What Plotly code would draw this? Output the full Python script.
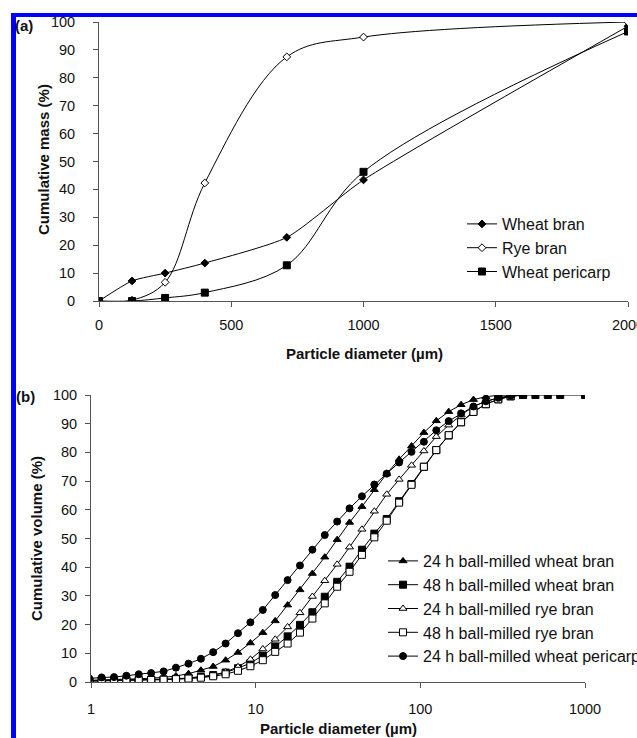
import plotly.graph_objects as go

W, H = 637, 738

# ---------------- Panel (a) data ----------------
sieve_um = [0, 125, 250, 400, 710, 1000, 2000]
wheat_bran_a = [0, 7.2, 10.0, 13.6, 22.8, 43.4, 98.5]
rye_bran_a = [0, 0.3, 6.7, 42.3, 87.5, 94.6, 100]
wheat_pericarp_a = [0, 0, 1.1, 3.0, 12.8, 46.3, 96.6]
x_ticks_a = [0, 500, 1000, 1500, 2000]

# ---------------- Panel (b) data ----------------
diam_b = [0.977, 1.16, 1.38, 1.64, 1.95, 2.32, 2.76, 3.28, 3.91, 4.65,
          5.52, 6.57, 7.81, 9.29, 11.05, 13.14, 15.63, 18.58, 22.10, 26.28,
          31.25, 37.16, 44.19, 52.56, 62.50, 74.33, 88.39, 105.1, 125.0, 148.7,
          176.8, 210.2, 250.0, 297.3, 353.6, 420.4, 500.0, 594.6, 707.1, 840.9,
          1000.0]
wb24 = [0.6, 0.8, 0.9, 1.0, 1.1, 1.3, 1.6, 2.1, 2.9, 4.1,
        5.4, 7.6, 10.3, 13.6, 17.2, 21.3, 26.8, 32.1, 37.8, 43.5,
        49.6, 55.6, 61.1, 67.0, 72.6, 77.6, 82.2, 86.9, 91.0, 94.2,
        96.6, 98.4, 99.4, 99.9, 100]
wb48 = [0.4, 0.5, 0.5, 0.6, 0.7, 0.8, 0.9, 1.1, 1.4, 1.8,
        2.4, 3.3, 4.8, 6.6, 9.2, 12.4, 15.9, 19.9, 24.3, 29.7,
        34.9, 40.2, 46.1, 51.7, 56.8, 63.0, 69.0, 75.0, 80.8, 85.9,
        90.5, 94.2, 96.8, 98.5, 99.5, 100, 100, 100, 100, None,
        100]
rb24 = [0.4, 0.6, 0.6, 0.7, 0.7, 0.8, 0.9, 1.0, 1.2, 1.6,
        2.3, 3.5, 5.3, 7.9, 11.5, 14.9, 19.2, 24.1, 29.8, 35.3,
        41.0, 47.0, 53.2, 59.5, 65.4, 70.6, 75.5, 80.5, 85.5, 89.5,
        93.0, 96.0, 97.8, 98.9, 99.6, 100]
rb48 = [0.3, 0.5, 0.5, 0.6, 0.6, 0.7, 0.8, 1.0, 1.2, 1.5,
        2.0, 2.7, 3.9, 5.5, 7.6, 10.5, 13.4, 17.2, 22.1, 27.4,
        33.2, 38.4, 44.3, 50.4, 56.2, 62.5, 68.7, 75.0, 80.8, 86.0,
        90.5, 94.1, 96.8, 98.5, 99.6, 100]
wp24 = [1.2, 1.6, 1.7, 2.2, 2.7, 3.1, 3.7, 5.0, 6.4, 8.1,
        10.4, 13.4, 17.0, 20.8, 25.1, 30.3, 35.5, 40.6, 46.1, 51.2,
        55.9, 60.5, 64.7, 68.8, 72.6, 76.5, 80.2, 83.7, 87.7, 90.9,
        93.6, 96.0, 97.8, 99.0, 99.8, 100]
x_ticks_b = [1, 10, 100, 1000]
y_ticks = [0, 10, 20, 30, 40, 50, 60, 70, 80, 90, 100]

FONT = "Liberation Sans, Arial, sans-serif"
BLK = "#000000"


def px(x):
    return x / W


def py(y):
    return 1 - y / H


fig = go.Figure()

# Panel (a) traces
fig.add_trace(go.Scatter(
    x=sieve_um, y=wheat_bran_a, name="Wheat bran", mode="lines+markers",
    line=dict(color=BLK, width=1, shape="spline", smoothing=0.6),
    marker=dict(symbol="diamond", size=6, color=BLK, line=dict(color=BLK, width=1)),
    xaxis="x", yaxis="y", legend="legend"))
fig.add_trace(go.Scatter(
    x=sieve_um, y=rye_bran_a, name="Rye bran", mode="lines+markers",
    line=dict(color=BLK, width=1, shape="spline", smoothing=1.0),
    marker=dict(symbol="diamond", size=6, color="white", line=dict(color=BLK, width=1)),
    xaxis="x", yaxis="y", legend="legend"))
fig.add_trace(go.Scatter(
    x=sieve_um, y=wheat_pericarp_a, name="Wheat pericarp", mode="lines+markers",
    line=dict(color=BLK, width=1, shape="spline", smoothing=1.0),
    marker=dict(symbol="square", size=7, color=BLK, line=dict(color=BLK, width=1)),
    xaxis="x", yaxis="y", legend="legend"))

# Panel (b) traces
series_b = [
    ("24 h ball-milled wheat bran", wb24, "triangle-up", BLK, 7),
    ("48 h ball-milled wheat bran", wb48, "square", BLK, 7),
    ("24 h ball-milled rye bran", rb24, "triangle-up", "white", 7),
    ("48 h ball-milled rye bran", rb48, "square", "white", 7),
    ("24 h ball-milled wheat pericarp", wp24, "circle", BLK, 7),
]
for name, vals, sym, fill, size in series_b:
    fig.add_trace(go.Scatter(
        x=diam_b[:len(vals)], y=vals, name=name, mode="lines+markers",
        connectgaps=True,
        line=dict(color=BLK, width=1),
        marker=dict(symbol=sym, size=size, color=fill, line=dict(color=BLK, width=1)),
        xaxis="x2", yaxis="y2", legend="legend2"))

axis_common = dict(
    showline=True, linecolor="#555555", linewidth=1,
    ticks="outside", ticklen=5, tickwidth=1, tickcolor="#555555",
    showgrid=False, zeroline=False, ticklabeloverflow="allow",
    tickfont=dict(family=FONT, size=14.5, color="#111111"),
)

LEG_FONT = dict(family=FONT, size=16, color="#111111")

fig.update_layout(
    width=W, height=H,
    margin=dict(l=0, r=0, t=0, b=0, pad=0, autoexpand=False),
    paper_bgcolor="white", plot_bgcolor="white",
    font=dict(family=FONT, color="#111111"),
    xaxis=dict(domain=[px(99), px(628)], range=[0, 2000], tickvals=x_ticks_a,
               anchor="y", ticklabelstandoff=6, **axis_common),
    yaxis=dict(domain=[py(301), py(22)], range=[0, 100], tickvals=y_ticks,
               anchor="x", ticklabelstandoff=15, **axis_common),
    xaxis2=dict(domain=[px(91), px(585)], type="log", range=[0, 3],
                tickvals=x_ticks_b, ticktext=[str(v) for v in x_ticks_b],
                anchor="y2", ticklabelstandoff=9, **axis_common),
    yaxis2=dict(domain=[py(682), py(395)], range=[0, 100], tickvals=y_ticks,
                anchor="x2", ticklabelstandoff=5, **axis_common),
    legend=dict(x=px(462), y=py(207), xanchor="left", yanchor="top",
                bgcolor="rgba(0,0,0,0)", borderwidth=0,
                font=LEG_FONT, tracegroupgap=0),
    legend2=dict(x=px(383), y=py(544), xanchor="left", yanchor="top",
                 bgcolor="rgba(0,0,0,0)", borderwidth=0,
                 font=LEG_FONT, tracegroupgap=0),
    showlegend=True,
)

title_font = dict(family=FONT, size=15, color="#111111", weight="bold")
annotations = [
    dict(text="(a)", x=px(24), y=py(25), font=title_font),
    dict(text="(b)", x=px(25), y=py(396), font=title_font),
    dict(text="Cumulative mass (%)", x=px(43), y=py(160), textangle=-90, font=title_font),
    dict(text="Particle diameter (µm)", x=px(364), y=py(353), font=title_font),
    dict(text="Cumulative volume (%)", x=px(36), y=py(539), textangle=-90, font=title_font),
    dict(text="Particle diameter (µm)", x=px(338), y=py(728), font=title_font),
]
for a in annotations:
    a.update(xref="paper", yref="paper", xanchor="center", yanchor="middle",
             showarrow=False)
fig.update_layout(annotations=annotations)

# blue selection frame along left and top edges
fig.add_shape(type="rect", xref="paper", yref="paper",
              x0=px(11), x1=px(16), y0=0, y1=py(13),
              fillcolor="#0000FF", line=dict(width=0), layer="above")
fig.add_shape(type="rect", xref="paper", yref="paper",
              x0=px(11), x1=1, y0=py(17), y1=py(13),
              fillcolor="#0000FF", line=dict(width=0), layer="above")

fig.write_html(
    "out.html",
    config={"displayModeBar": False},
    post_script="document.body.style.margin='0px';document.body.style.overflow='hidden';",
)
